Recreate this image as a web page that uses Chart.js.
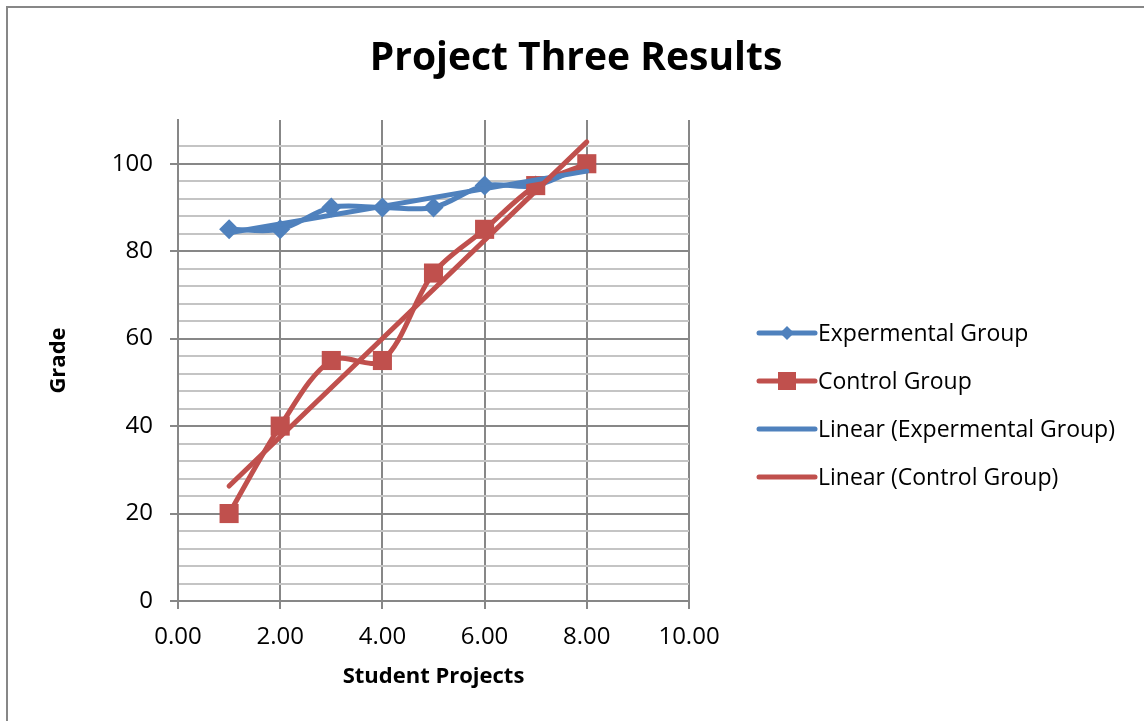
<!DOCTYPE html>
<html>
<head>
<meta charset="utf-8">
<script src="https://cdn.jsdelivr.net/npm/chart.js@4/dist/chart.umd.min.js"></script>
<style>
  html, body { margin: 0; padding: 0; background: #ffffff; }
  #wrap { position: relative; width: 1144px; height: 721px; overflow: hidden; }
  #frame { position: absolute; left: 6px; top: 6px; width: 1300px; height: 900px;
           border-left: 2px solid #878787; border-top: 2px solid #878787; }
  #c { position: absolute; left: 0; top: 0; }
</style>
</head>
<body>
<div id="wrap">
  <div id="frame"></div>
  <canvas id="c" width="1144" height="721"></canvas>
</div>
<script>
// Student project number and the grades of each group
const projects = [1, 2, 3, 4, 5, 6, 7, 8];
const experimentalGrades = [85, 85, 90, 90, 90, 95, 95, 100];
const controlGrades = [20, 40, 55, 55, 75, 85, 95, 100];

// Linear trend lines, from the first to the last project
const trendProjects = [1, 8];
const experimentalTrend = [84.2, 98.3];
const controlTrend = [26.3, 105];

const seriesNames = ['Expermental Group', 'Control Group',
                     'Linear (Expermental Group)', 'Linear (Control Group)'];

const BLUE = '#4f81bd';
const RED = '#c0504d';
const GRID_MAJOR = '#878787';
const GRID_MINOR = '#c4c4c4';
const FONT = '"Open Sans"';

const toPoints = (xs, ys) => xs.map((x, i) => ({ x: x, y: ys[i] }));

// Title and legend drawn onto the same canvas
const chartText = {
  id: 'chartText',
  afterDraw(chart) {
    const ctx = chart.ctx;
    ctx.save();
    ctx.fillStyle = '#000';
    ctx.font = 'bold 39px ' + FONT;
    ctx.textAlign = 'center';
    ctx.textBaseline = 'alphabetic';
    ctx.fillText('Project Three Results', 576, 70);

    const x0 = 759, x1 = 815, mid = (x0 + x1) / 2;
    chart.data.datasets.forEach((ds, i) => {
      const y = 333 + i * 48;
      ctx.strokeStyle = ds.borderColor;
      ctx.lineWidth = ds.borderWidth;
      ctx.lineCap = 'round';
      ctx.beginPath();
      ctx.moveTo(x0, y);
      ctx.lineTo(x1, y);
      ctx.stroke();
      if (ds.pointRadius > 0) {
        ctx.fillStyle = ds.pointBackgroundColor;
        ctx.beginPath();
        if (ds.pointStyle === 'rectRot') {
          const r = 7;
          ctx.moveTo(mid - r, y); ctx.lineTo(mid, y - r);
          ctx.lineTo(mid + r, y); ctx.lineTo(mid, y + r);
        } else {
          const h = 9;
          ctx.rect(mid - h, y - h, 2 * h, 2 * h);
        }
        ctx.closePath();
        ctx.fill();
      }
      ctx.fillStyle = '#000';
      ctx.font = '23px ' + FONT;
      ctx.textAlign = 'left';
      ctx.textBaseline = 'middle';
      ctx.fillText(ds.label, 818, y + 1);
    });
    ctx.restore();
  }
};

const isMajor = v => v % 20 === 0 && v <= 100;

new Chart(document.getElementById('c'), {
  type: 'line',
  data: {
    datasets: [
      {
        label: seriesNames[0],
        data: toPoints(projects, experimentalGrades),
        borderColor: BLUE, backgroundColor: BLUE,
        pointBackgroundColor: BLUE, pointBorderColor: BLUE,
        borderWidth: 5, pointStyle: 'rectRot', pointRadius: 10, pointBorderWidth: 0,
        tension: 0.33, order: 4
      },
      {
        label: seriesNames[1],
        data: toPoints(projects, controlGrades),
        borderColor: RED, backgroundColor: RED,
        pointBackgroundColor: RED, pointBorderColor: RED,
        borderWidth: 5, pointStyle: 'rect', pointRadius: 13.5, pointBorderWidth: 0,
        tension: 0.33, order: 3
      },
      {
        label: seriesNames[2],
        data: toPoints(trendProjects, experimentalTrend),
        borderColor: BLUE, backgroundColor: BLUE,
        borderWidth: 5, pointRadius: 0, borderCapStyle: 'round', order: 2
      },
      {
        label: seriesNames[3],
        data: toPoints(trendProjects, controlTrend),
        borderColor: RED, backgroundColor: RED,
        borderWidth: 5, pointRadius: 0, borderCapStyle: 'round', order: 1
      }
    ]
  },
  options: {
    responsive: false,
    animation: false,
    events: [],
    layout: { padding: { left: 0, top: 120, right: 455, bottom: 0 } },
    plugins: { legend: { display: false }, title: { display: false }, tooltip: { enabled: false } },
    elements: { line: { borderJoinStyle: 'round', borderCapStyle: 'round' } },
    scales: {
      x: {
        type: 'linear', min: 0, max: 10,
        ticks: {
          stepSize: 2, padding: 14, color: '#000',
          font: { family: FONT, size: 24 },
          callback: v => Number(v).toFixed(2)
        },
        grid: { color: GRID_MAJOR, lineWidth: 2, tickLength: 8, tickColor: GRID_MAJOR },
        border: { display: true, color: GRID_MAJOR, width: 2 },
        title: {
          display: true, text: 'Student Projects', color: '#000',
          font: { family: FONT, size: 22, weight: 'bold' },
          padding: { top: 0, bottom: 31 }
        },
        afterFit: s => { s.height = 120; }
      },
      y: {
        type: 'linear', min: 0, max: 110,
        ticks: {
          stepSize: 4, autoSkip: false, padding: 17, color: '#000',
          font: { family: FONT, size: 24 },
          callback: v => (isMajor(v) ? String(v) : '')
        },
        grid: {
          lineWidth: 2, tickLength: 8,
          color: c => (c.tick && c.tick.value > 108 ? 'rgba(0,0,0,0)'
                       : (c.tick && isMajor(c.tick.value) ? GRID_MAJOR : GRID_MINOR)),
          tickColor: c => (c.tick && isMajor(c.tick.value) ? GRID_MAJOR : 'rgba(0,0,0,0)')
        },
        border: { display: true, color: GRID_MAJOR, width: 2 },
        title: {
          display: true, text: 'Grade', color: '#000',
          font: { family: FONT, size: 22, weight: 'bold' },
          padding: { top: 46, bottom: 0 }
        },
        afterFit: s => { s.width = 178; }
      }
    }
  },
  plugins: [chartText]
});
</script>
</body>
</html>
